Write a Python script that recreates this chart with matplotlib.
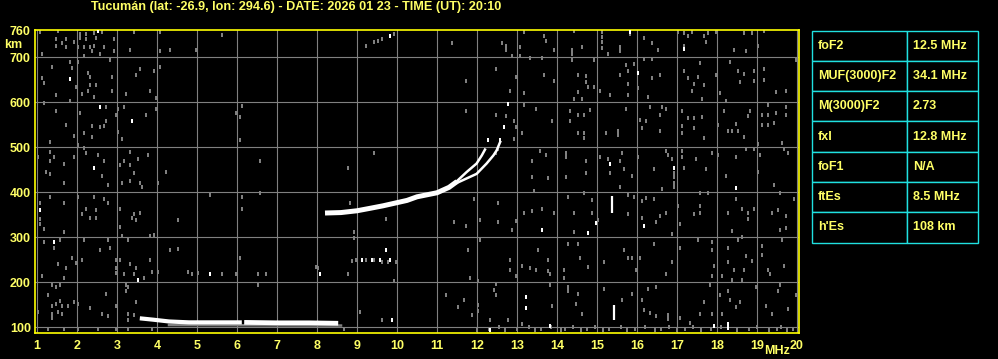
import matplotlib
matplotlib.use('Agg')
import matplotlib.pyplot as plt

# Station header
title = "Tucumán (lat: -26.9, lon: 294.6) - DATE: 2026 01 23 - TIME (UT): 20:10"

# Scaled parameters (right hand table)
param_names = ['foF2', 'MUF(3000)F2', 'M(3000)F2', 'fxI', 'foF1', 'ftEs', "h'Es"]
param_values = ['12.5 MHz', '34.1 MHz', '2.73', '12.8 MHz', 'N/A', '8.5 MHz', '108 km']

# Axes ticks
freq_ticks = list(range(1, 21))
height_ticks = [100, 200, 300, 400, 500, 600, 700, 760]

# F trace: trunk and the two upper branches (MHz, km)
f_trunk_freq = [8.2, 8.6, 9.0, 9.3, 9.65, 10.0, 10.25, 10.5, 11.0, 11.3, 11.5]
f_trunk_height = [354, 355, 359, 364, 370, 377, 382, 390, 399, 411, 424]
f_o_freq = [11.5, 11.74, 11.99, 12.12, 12.2]
f_o_height = [425, 445, 464, 482, 495]
f_x_freq = [11.5, 11.99, 12.24, 12.41, 12.49, 12.58]
f_x_height = [421, 441, 464, 482, 493, 512]

# Es trace (two pieces)
es1_freq = [3.57, 3.9, 4.3, 4.8, 5.5, 6.12]
es1_height = [120, 117, 113, 111, 111, 111]
es2_freq = [6.18, 7.0, 7.8, 8.53]
es2_height = [111, 110, 110, 109]

# Vertical white echoes near 15.4 MHz
spike_freq = [15.38, 15.43]
spike_bottom = [354, 116]
spike_top = [392, 149]

# Isolated bright echoes
bright_freq = [2.53, 1.83, 2.58, 3.38, 2.43, 9.83, 15.83, 17.18, 16.03, 1.08, 1.43,
               3.53, 5.33, 8.08, 9.73, 9.13, 9.38, 9.58, 9.83, 9.88, 15.33, 12.78,
               12.68, 12.58, 12.28, 14.98, 14.78, 13.63, 16.18, 18.48, 13.23, 13.23,
               13.83, 18.28, 18.28, 17.93, 12.33, 16.93]
bright_height = [758, 652, 590, 558, 455, 748, 757, 719, 666, 360, 290,
                 206, 219, 219, 272, 250, 250, 250, 250, 116, 464, 597,
                 545, 516, 516, 332, 310, 317, 325, 410, 167, 142,
                 103, 107, 99, 103, 94, 455]

# Grey noise echoes (MHz)
noise_freq = [
    1.08, 1.53, 1.73, 2.08, 2.23, 2.43, 2.63, 1.48, 1.63, 1.48, 1.73, 1.93, 2.03, 2.18,
    2.33, 2.43, 2.08, 2.23, 2.48, 2.68, 2.93, 2.93, 2.18, 2.38, 2.58, 1.13, 3.33, 3.43,
    4.08, 4.08, 4.33, 4.98, 5.63, 9.43, 9.53, 9.63, 9.23, 9.93,
    1.83, 2.03, 1.88, 1.38, 1.13, 1.18, 2.28, 2.33, 2.88, 2.48, 2.33, 2.13, 2.28, 2.43,
    2.88, 3.23, 2.83, 3.58, 3.48, 3.93, 3.83, 4.08, 3.98, 1.48, 1.83, 1.98,
    1.18, 1.48, 1.73, 1.93, 2.08, 2.73, 3.03, 3.18, 2.98, 2.73, 2.38, 2.58, 2.68, 2.18,
    2.38, 3.03, 3.13, 3.73, 3.98, 6.13, 6.08, 5.98, 6.08, 1.33, 2.03,
    1.33, 1.03, 1.43, 1.33, 1.68, 1.23, 1.33, 2.18, 2.23, 2.53, 2.68, 2.63, 1.93, 3.08,
    3.18, 3.33, 3.53, 3.78, 3.33, 3.43, 4.23, 6.58, 8.78, 9.43,
    11.38, 12.63, 12.73, 12.73, 12.88, 13.18, 13.68, 13.73, 14.43, 14.38, 14.38, 14.63,
    15.13, 15.13, 15.13, 15.13, 15.28, 15.58, 15.58, 15.83, 16.18, 16.38, 16.53, 17.03,
    17.18, 17.28, 17.38, 17.18, 17.68, 17.78, 17.73, 17.98, 18.43, 18.73, 18.68, 18.88,
    19.03, 19.18, 13.08, 13.08, 13.33, 13.63, 13.93,
    14.38, 14.93, 15.73, 15.93, 15.78, 16.18, 16.38, 16.38, 16.03, 15.78, 15.58, 14.53,
    14.73, 14.73, 14.78, 14.93, 14.53, 14.63, 14.43, 13.93, 13.68, 13.18, 12.98, 12.83,
    12.48, 11.73, 15.08, 15.33, 15.78, 17.18, 17.28, 17.43, 17.58, 17.53, 17.68, 17.38,
    17.63, 18.33, 18.53, 18.68, 18.93, 18.93, 19.18, 19.18, 19.48, 19.73, 18.08, 18.23,
    18.58, 19.98, 17.98, 16.58, 16.28,
    13.18, 13.48, 14.33, 14.53, 14.68, 14.83, 13.88, 14.33, 15.73, 15.53, 15.53, 15.23,
    14.68, 14.68, 14.53, 16.08, 16.23, 16.33, 16.58, 16.73, 16.63, 17.13, 17.13, 17.13,
    17.28, 17.43, 17.43, 17.63, 17.68, 18.03, 18.18, 18.28, 18.38, 18.53, 18.48, 18.68,
    18.83, 18.78, 19.13, 19.28, 19.48, 19.73, 19.28, 19.73, 19.13, 19.28, 19.43, 19.63,
    19.03, 13.13, 12.93, 12.98, 12.93, 11.73, 12.48, 12.73, 16.58, 16.13,
    13.58, 13.73, 14.23, 14.23, 13.38, 14.73, 15.08, 15.28, 15.58, 15.68, 15.63, 16.03,
    16.73, 16.78, 16.88, 16.93, 16.93, 17.13, 17.13, 17.18, 17.48, 17.73, 17.88, 18.03,
    18.48, 18.73, 18.93, 19.08, 19.68, 19.78, 19.03, 18.23, 13.38, 13.78, 14.23, 14.73,
    15.33, 15.88, 16.43, 12.48, 12.53,
    1.68, 2.78, 3.13, 3.33, 3.58, 3.63, 4.03, 1.33, 1.68, 2.03, 2.43, 2.68, 2.78, 1.08,
    1.08, 1.08, 1.18, 2.23, 2.13, 2.33, 2.48, 2.48, 3.08, 3.08, 3.43, 3.38, 3.48, 3.58,
    1.68, 3.13, 3.28, 3.83, 3.93, 4.53, 5.33, 6.13, 6.13, 6.58, 8.83, 9.73, 8.93, 8.93,
    1.43, 1.18, 1.58, 2.18, 2.83, 2.58, 2.78, 1.88, 1.98, 2.13, 1.53, 1.73, 1.13, 1.68,
    2.98, 2.98, 2.98, 3.08, 3.18, 3.33, 3.48, 3.43, 3.68, 3.83, 3.88, 4.03, 4.33, 4.53,
    4.78, 4.88, 5.03, 5.63, 5.98, 6.53, 6.73, 6.08, 7.98, 8.03, 8.78,
    8.88, 8.98, 9.23, 9.43, 9.63, 9.78, 9.98,
    1.38, 1.58, 1.48, 1.28, 1.58, 1.48, 1.38, 1.63, 1.78, 1.38, 1.53, 1.38, 1.63, 1.93,
    2.03, 2.33, 2.73, 2.63, 2.78, 3.23, 3.28, 3.23, 2.98, 3.48, 3.28, 3.28, 3.43, 6.53,
    9.08, 9.93, 1.03, 1.28, 1.68, 2.03, 2.53, 2.98, 3.28, 3.88, 8.68, 9.63,
    13.43, 14.28, 14.68, 15.58, 15.78, 15.93, 16.23, 16.13, 16.43, 16.63, 16.93, 16.93,
    17.58, 17.78, 17.58, 17.58, 17.43, 18.48, 18.63, 18.78, 18.78, 18.93, 19.43, 19.58,
    19.38, 19.53, 19.73, 19.58, 19.73, 19.93, 18.28, 18.38, 18.63, 18.53, 17.08, 17.03,
    16.73, 16.58, 16.88, 16.48, 16.13, 15.78, 14.88, 14.88, 15.03, 14.43, 14.43, 13.93,
    13.63, 13.38, 13.18, 12.98, 12.88, 12.53, 12.53, 12.08, 11.73, 11.43, 11.93, 12.08,
    11.78, 12.83, 12.83, 12.98, 13.13, 13.33, 13.48, 13.53, 13.78, 13.78, 13.83, 14.18,
    14.18, 14.28, 14.53, 14.58, 14.78, 15.18, 15.68, 15.78, 15.88, 15.98, 16.08, 16.43,
    16.73, 16.88, 17.08, 17.53, 17.88, 17.88, 17.93, 17.88, 18.28, 18.28, 18.43, 18.68,
    18.73, 19.13, 19.28, 19.33, 19.13, 19.68, 19.63, 18.88, 18.13, 18.38, 18.63, 12.03,
    11.83, 12.48, 12.43, 12.48, 11.23, 11.68, 11.53, 12.03, 12.03, 11.88, 12.33, 12.78,
    13.13, 13.88, 13.83, 14.28, 14.28, 14.53, 14.48, 14.63, 15.18, 15.63, 15.88, 16.13,
    16.28, 16.48, 16.18, 16.33, 16.48, 16.78, 17.08, 16.78, 17.33, 17.58, 17.68, 17.83,
    17.88, 18.13, 18.08, 18.28, 18.33, 18.48, 18.58, 19.23, 19.38, 19.53, 19.58, 19.98,
    19.78, 18.98,
    12.0, 12.3, 12.55, 12.7, 13.0, 13.3, 13.45, 13.6, 13.85, 14.1, 14.2, 14.4, 14.6,
    14.75, 14.95, 15.15, 15.3, 15.6, 15.75, 15.95, 16.2, 16.45, 16.6, 16.8, 17.0, 17.2,
    17.4, 17.6, 17.85, 18.1, 18.5, 18.8, 19.0, 19.3, 19.5, 19.6, 19.75, 19.9]

# Grey noise echoes (km), same order as noise_freq
noise_height = [
    757, 758, 741, 752, 752, 753, 757, 740, 731, 726, 723, 735, 722, 722,
    722, 726, 744, 740, 744, 722, 740, 713, 704, 713, 708, 708, 717, 757,
    757, 713, 717, 717, 750, 735, 737, 740, 726, 751,
    690, 690, 677, 679, 655, 643, 666, 657, 657, 639, 639, 619, 625, 612,
    625, 619, 693, 675, 661, 670, 625, 679, 610, 616, 603, 634,
    599, 581, 549, 525, 576, 590, 585, 590, 572, 558, 547, 545, 547, 531,
    522, 534, 518, 572, 585, 592, 567, 576, 516, 511, 505,
    489, 478, 478, 469, 464, 446, 440, 498, 487, 482, 469, 437, 478, 460,
    469, 489, 475, 482, 460, 442, 446, 469, 455, 487,
    731, 731, 726, 717, 704, 757, 748, 737, 758, 717, 708, 722,
    757, 745, 733, 721, 708, 722, 713, 752, 744, 731, 717, 757,
    753, 748, 757, 726, 748, 753, 735, 757, 717, 713, 753, 754,
    726, 758, 722, 704, 699, 699, 717,
    693, 693, 684, 686, 670, 697, 697, 655, 632, 641, 661, 661,
    659, 646, 635, 635, 623, 607, 607, 648, 661, 621, 657, 625,
    675, 648, 625, 616, 616, 670, 653, 641, 688, 657, 639, 625,
    607, 690, 670, 663, 670, 648, 675, 650, 623, 625, 621, 603,
    646, 693, 661, 661, 612,
    594, 585, 581, 572, 572, 583, 558, 558, 585, 536, 528, 531,
    531, 520, 531, 561, 558, 590, 572, 585, 590, 581, 547, 531,
    565, 565, 543, 567, 520, 549, 581, 536, 536, 536, 551, 522,
    581, 569, 572, 572, 576, 572, 594, 590, 549, 549, 554, 509,
    507, 531, 558, 545, 518, 581, 572, 569, 536, 543,
    491, 482, 487, 478, 469, 469, 478, 473, 469, 451, 487, 478,
    491, 482, 473, 442, 433, 491, 478, 455, 473, 451, 487, 482,
    478, 496, 496, 482, 496, 487, 446, 437, 433, 431, 433, 442,
    442, 437, 451, 487, 496,
    420, 417, 420, 425, 420, 412, 421, 390, 376, 390, 390, 386, 377, 377,
    340, 329, 318, 364, 351, 342, 360, 342, 364, 322, 351, 342, 338, 355,
    311, 303, 294, 303, 305, 338, 395, 390, 364, 399, 377, 340, 311, 298,
    276, 290, 294, 294, 276, 272, 294, 254, 243, 250, 241, 232, 215, 210,
    250, 232, 221, 250, 219, 241, 232, 219, 210, 250, 224, 224, 272, 274,
    224, 219, 221, 219, 219, 219, 219, 254, 235, 232, 219,
    248, 250, 250, 250, 246, 246, 246,
    193, 195, 189, 171, 158, 151, 147, 147, 147, 129, 134, 120, 129, 156,
    151, 142, 175, 129, 125, 193, 189, 180, 147, 156, 129, 116, 127, 193,
    134, 202, 134, 96, 96, 96, 96, 96, 96, 96, 96, 116,
    404, 390, 399, 412, 393, 390, 388, 380, 386, 408, 421, 412,
    399, 399, 369, 355, 351, 386, 362, 355, 340, 364, 417, 399,
    355, 360, 347, 316, 320, 386, 355, 314, 300, 294, 329, 369,
    355, 347, 307, 333, 342, 351, 382, 355, 338, 311, 355, 355,
    362, 358, 355, 336, 316, 377, 333, 338, 325, 333, 386, 294,
    272, 250, 228, 215, 237, 232, 228, 272, 250, 226, 219, 228,
    210, 285, 285, 254, 235, 246, 272, 254, 254, 228, 254, 285,
    219, 246, 276, 294, 290, 272, 237, 215, 276, 246, 228, 228,
    259, 261, 228, 219, 281, 237, 294, 248, 215, 206, 206, 202,
    210, 197, 184, 171, 171, 160, 145, 149, 136, 127, 116, 116,
    107, 147, 193, 189, 180, 173, 151, 129, 186, 160, 175, 160,
    186, 189, 138, 131, 125, 127, 120, 118, 110, 129, 156, 195,
    129, 129, 171, 180, 160, 145, 156, 147, 129, 180, 193, 171,
    140, 189,
    93, 97, 101, 93, 97, 101, 93, 97, 101, 93, 97, 101, 93,
    97, 101, 93, 97, 101, 93, 97, 101, 93, 97, 101, 93, 97,
    101, 93, 97, 101, 93, 97, 101, 93, 97, 101, 93, 97]

yellow = '#ffff66'
border = '#ffff00'
grey = '#808080'
cyan = '#20e0e0'
font = 'Liberation Sans'
fsize = 9

# tall 1:2 block, like the ionosonde range-bin pixels
pixel_mark = [(-0.5, -1), (0.5, -1), (0.5, 1), (-0.5, 1), (-0.5, -1)]

fig = plt.figure(figsize=(9.98, 3.59), dpi=100, facecolor='black')
ax = fig.add_axes([35 / 998, 1 - 333.3 / 359, 764 / 998, 303.8 / 359])
ax.set_facecolor('black')
ax.set_xlim(0.95, 20.05)
ax.set_ylim(86.7, 761.8)

# grid
for f in freq_ticks:
    ax.axvline(f, color=grey, lw=0.8, zorder=1)
for h in height_ticks[:-1]:
    ax.axhline(h, color=grey, lw=0.8, zorder=1)

# noise and echoes
ax.plot(noise_freq, noise_height, ls='none', marker=pixel_mark, color=grey,
        ms=3.0, mew=0, zorder=2)
ax.plot(bright_freq, bright_height, ls='none', marker=pixel_mark, color='white',
        ms=3.0, mew=0, zorder=3)
ax.vlines(spike_freq, spike_bottom, spike_top, color='white', lw=1.6, zorder=3)

# Es layer
ax.plot([4.3, 8.6], [105, 104], color=grey, lw=1.8, zorder=2)
ax.plot(es1_freq, es1_height, color='white', lw=3.0, solid_capstyle='butt', zorder=4)
ax.plot(es2_freq, es2_height, color='white', lw=3.4, solid_capstyle='butt', zorder=4)

# F layer
ax.plot(f_trunk_freq, f_trunk_height, color='white', lw=3.6, solid_capstyle='butt', zorder=4)
ax.plot(f_o_freq, f_o_height, color='white', lw=1.8, zorder=4)
ax.plot(f_x_freq, f_x_height, color='white', lw=1.8, zorder=4)

ax.set_xticks(freq_ticks)
ax.set_yticks(height_ticks)
ax.tick_params(length=0, colors=yellow, labelsize=fsize)
ax.tick_params(axis='x', pad=5)
ax.tick_params(axis='y', pad=3)
for lab in ax.get_xticklabels() + ax.get_yticklabels():
    lab.set_fontweight('bold')
    lab.set_family(font)
for s in ax.spines.values():
    s.set_color(border)
    s.set_linewidth(1.2)

fig.text(91 / 998, 1 - 6.7 / 359, title, color=yellow, fontsize=9.1,
         fontweight='bold', family=font, va='center', ha='left')
fig.text(13.5 / 998, 1 - 45.5 / 359, 'km', color=yellow, fontsize=fsize,
         fontweight='bold', family=font, va='center', ha='center')
fig.text(777 / 998, 1 - 351.5 / 359, 'MHz', color=yellow, fontsize=fsize,
         fontweight='bold', family=font, va='center', ha='center')

# parameter table
tax = fig.add_axes([812 / 998, 1 - 242.5 / 359, 166 / 998, 212 / 359])
tax.axis('off')
tab = tax.table(cellText=[[n, v] for n, v in zip(param_names, param_values)],
                colWidths=[0.574, 0.426], bbox=[0, 0, 1, 1], cellLoc='left')
tab.auto_set_font_size(False)
for (r, c), cell in tab.get_celld().items():
    cell.set_facecolor('black')
    cell.set_edgecolor(cyan)
    cell.set_linewidth(1.0)
    cell.PAD = 0.06 if c == 0 else 0.08
    cell.get_text().set_color(yellow)
    cell.get_text().set_fontsize(fsize)
    cell.get_text().set_fontweight('bold')
    cell.get_text().set_family(font)

fig.savefig('out.png', dpi=100, facecolor='black')
